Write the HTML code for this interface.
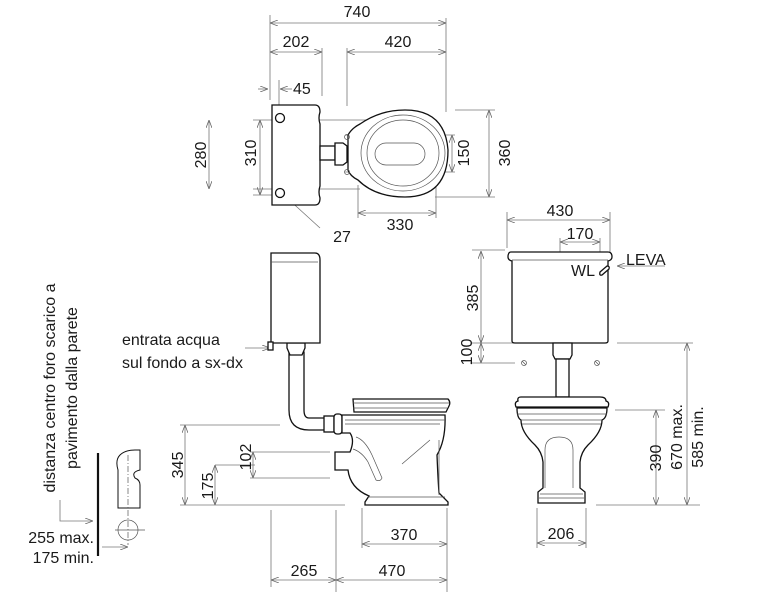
<!DOCTYPE html>
<html><head><meta charset="utf-8"><style>
body{margin:0;background:#fff}
svg{display:block}
text{font-family:"Liberation Sans",sans-serif;font-size:16px;fill:#1a1a1a}
.d{stroke:#777;stroke-width:0.8;fill:none}
.o{stroke:#111;stroke-width:1.3;fill:#fff}
.t{stroke:#555;stroke-width:0.7;fill:none}
</style></head><body>
<svg width="758" height="615" viewBox="0 0 758 615" xmlns="http://www.w3.org/2000/svg">
<defs>
<marker id="a" markerWidth="8" markerHeight="6" refX="8" refY="3" orient="auto-start-reverse" markerUnits="userSpaceOnUse"><path d="M0,0 L8,3 L0,6" fill="none" stroke="#666" stroke-width="0.8"/></marker>
</defs>
<g class="d">
<line x1="270" y1="15" x2="270" y2="100"/><line x1="322" y1="48" x2="322" y2="96"/><line x1="347" y1="48" x2="347" y2="106"/><line x1="446" y1="18" x2="446" y2="112"/>
<line x1="270" y1="23" x2="446" y2="23" marker-start="url(#a)" marker-end="url(#a)"/>
<line x1="270" y1="52" x2="322" y2="52" marker-start="url(#a)" marker-end="url(#a)"/>
<line x1="347" y1="52" x2="446" y2="52" marker-start="url(#a)" marker-end="url(#a)"/>
<line x1="258" y1="89" x2="268" y2="89" marker-end="url(#a)"/><line x1="292" y1="89" x2="280" y2="89" marker-end="url(#a)"/><line x1="279" y1="80" x2="279" y2="118"/>
<line x1="253" y1="120" x2="400" y2="120"/><line x1="253" y1="189" x2="360" y2="189"/><line x1="253" y1="195" x2="280" y2="195"/>
<line x1="209" y1="120" x2="209" y2="189" marker-start="url(#a)" marker-end="url(#a)"/>
<line x1="260" y1="120" x2="260" y2="195" marker-start="url(#a)" marker-end="url(#a)"/>
<line x1="345" y1="135" x2="455" y2="135"/><line x1="345" y1="172" x2="455" y2="172"/>
<line x1="452" y1="135" x2="452" y2="172" marker-start="url(#a)" marker-end="url(#a)"/>
<line x1="455" y1="110" x2="495" y2="110"/><line x1="435" y1="197" x2="495" y2="197"/>
<line x1="489" y1="110" x2="489" y2="197" marker-start="url(#a)" marker-end="url(#a)"/>
<line x1="358" y1="185" x2="358" y2="218"/><line x1="436" y1="180" x2="436" y2="218"/>
<line x1="358" y1="213" x2="436" y2="213" marker-start="url(#a)" marker-end="url(#a)"/>
<line x1="320" y1="228" x2="286" y2="197" marker-end="url(#a)"/>
<line x1="180" y1="505" x2="345" y2="505"/><line x1="180" y1="425" x2="280" y2="425"/>
<line x1="185" y1="425" x2="185" y2="505" marker-start="url(#a)" marker-end="url(#a)"/>
<line x1="215" y1="465" x2="255" y2="465"/>
<line x1="215" y1="465" x2="215" y2="505" marker-start="url(#a)" marker-end="url(#a)"/>
<line x1="250" y1="452" x2="330" y2="452"/><line x1="250" y1="478" x2="330" y2="478"/>
<line x1="253" y1="452" x2="253" y2="478" marker-start="url(#a)" marker-end="url(#a)"/>
<line x1="271" y1="510" x2="271" y2="587"/><line x1="336" y1="510" x2="336" y2="592"/><line x1="362" y1="508" x2="362" y2="548"/><line x1="447" y1="508" x2="447" y2="592"/>
<line x1="362" y1="544" x2="447" y2="544" marker-start="url(#a)" marker-end="url(#a)"/>
<line x1="271" y1="580" x2="336" y2="580" marker-start="url(#a)" marker-end="url(#a)"/>
<line x1="336" y1="580" x2="447" y2="580" marker-start="url(#a)" marker-end="url(#a)"/>
<line x1="245" y1="348" x2="270" y2="348" marker-end="url(#a)"/>
<line x1="507" y1="212" x2="507" y2="248"/><line x1="610" y1="212" x2="610" y2="252"/>
<line x1="507" y1="220" x2="610" y2="220" marker-start="url(#a)" marker-end="url(#a)"/>
<line x1="560" y1="238" x2="560" y2="272"/><line x1="600" y1="238" x2="600" y2="258"/>
<line x1="560" y1="242" x2="600" y2="242" marker-start="url(#a)" marker-end="url(#a)"/>
<line x1="548" y1="270" x2="568" y2="270"/>
<line x1="665" y1="266" x2="617" y2="266" marker-end="url(#a)"/>
<line x1="472" y1="250" x2="505" y2="250"/><line x1="470" y1="343" x2="515" y2="343"/><line x1="470" y1="363" x2="515" y2="363"/>
<line x1="481" y1="251" x2="481" y2="343" marker-start="url(#a)" marker-end="url(#a)"/>
<line x1="481" y1="343" x2="481" y2="363" marker-start="url(#a)" marker-end="url(#a)"/>
<line x1="617" y1="343" x2="693" y2="343"/><line x1="615" y1="410" x2="665" y2="410"/><line x1="596" y1="505" x2="700" y2="505"/>
<line x1="656" y1="410" x2="656" y2="505" marker-start="url(#a)" marker-end="url(#a)"/>
<line x1="687" y1="343" x2="687" y2="505" marker-start="url(#a)" marker-end="url(#a)"/>
<line x1="537" y1="508" x2="537" y2="548"/><line x1="586" y1="508" x2="586" y2="548"/>
<line x1="537" y1="543" x2="586" y2="543" marker-start="url(#a)" marker-end="url(#a)"/>
<polyline points="60,500 60,521 93,521" marker-end="url(#a)"/>
<line x1="102" y1="547" x2="128" y2="547" marker-end="url(#a)"/>
</g>

<path class="o" d="M272,105 H315 Q320,105 320,112 Q318,118 320,124 V186 Q318,192 320,198 Q320,205 315,205 H272 Z"/>
<circle class="o" cx="280" cy="118" r="4.5"/><circle class="o" cx="280" cy="193" r="4.5"/>
<rect class="o" x="320" y="146" width="15" height="14"/>
<path class="o" d="M335,143 h8 l4,3 v16 l-4,3 h-8 z"/>
<path class="o" d="M348,135 Q352,128 360,124 Q380,110 405,110 Q445,110 448,150 Q448,197 405,197 Q375,197 358,180 Q350,176 348,170 Z"/>
<ellipse class="t" cx="403" cy="153" rx="42" ry="38"/>
<ellipse class="t" cx="403" cy="153" rx="36" ry="33"/>
<rect class="t" x="375" y="143" width="50" height="22" rx="11"/>
<circle class="t" cx="347" cy="137" r="2.5"/><circle class="t" cx="347" cy="172" r="2.5"/>

<path class="o" d="M289,343 V410 Q289,430 309,430 H325 V418 H309 Q304,418 304,410 V352 Z"/>
<path class="o" d="M287,343 h18 v5 l-3,7 h-12 l-3,-7z"/>
<path class="o" d="M271,253 H315 Q320,253 320,260 V343 H271 Z"/>
<line class="t" x1="271" y1="262" x2="318" y2="262"/>
<rect class="o" x="268" y="342" width="5" height="8"/>
<rect class="o" x="324" y="416" width="10" height="16"/><rect class="o" x="334" y="414" width="8" height="20" rx="3"/>
<path class="o" d="M342,415 H445 Q446,440 437,455 Q438,480 439,493 L448,502 V505 H365 V502 L369,496 Q350,488 348,470 H335 V452 H350 Q355,440 350,433 H342 Z"/>
<line class="t" x1="345" y1="420" x2="445" y2="420"/><line class="t" x1="345" y1="424" x2="440" y2="424"/>
<line class="t" x1="368" y1="497" x2="445" y2="497"/>
<path class="t" d="M356,437 Q365,440 372,455 L382,478 Q380,482 376,480 L368,462 Q362,452 353,449"/>
<path class="t" d="M402,464 L430,440"/>
<line class="t" x1="439" y1="440" x2="439" y2="495"/>
<path class="o" d="M353,399 H448 Q451,402 449,406 L446,412 H354 Z"/>
<line class="t" x1="353" y1="403" x2="449" y2="403"/><line class="t" x1="353" y1="408" x2="447" y2="408"/>

<path class="o" d="M511,252 H608 Q612,252 612,257 Q612,260 608,261 V341 Q608,343 605,343 H515 Q512,343 512,341 V261 Q508,260 508,257 Q508,252 511,252 Z"/>
<line class="t" x1="512" y1="260" x2="608" y2="260"/>
<path class="o" d="M600,272 l7,-6 q3,0 2,3 l-7,6 q-3,1 -2,-3z"/>
<g class="t"><circle cx="524" cy="363" r="2.5"/><circle cx="597" cy="363" r="2.5"/><line x1="522" y1="361" x2="526" y2="365"/><line x1="595" y1="361" x2="599" y2="365"/></g>
<path class="o" d="M553,343 h19 v12 l-2,4 h-15 l-2,-4z"/>
<rect class="o" x="556" y="359" width="13" height="38"/>
<path class="o" d="M521,397 H600 Q606,397 606,401 Q610,402 608,407 H516 Q514,402 518,401 Q517,397 521,397 Z"/>
<path class="o" d="M517,408 H607 Q607,418 602,420 Q602,432 588,445 Q581,452 580,462 V488 L585,492 V503 H538 V492 L543,488 V462 Q542,452 535,445 Q521,432 521,420 Q517,418 517,408 Z"/>
<line class="t" x1="517" y1="414" x2="607" y2="414"/><line class="t" x1="521" y1="420" x2="602" y2="420"/><line class="t" x1="522" y1="424" x2="601" y2="424"/>
<path class="t" d="M545,488 V450 Q545,437 559,437 Q573,437 573,450 V488"/>
<line class="t" x1="540" y1="494" x2="583" y2="494"/><line class="t" x1="539" y1="498" x2="584" y2="498"/>

<line x1="98" y1="453" x2="98" y2="556" stroke="#111" stroke-width="2.2"/>
<path class="o" d="M118,508 V470 Q115,460 120,455 Q125,450 135,450 H140 V470 Q131,472 135,478 Q140,480 140,485 V508 Z" style="stroke-width:1"/>
<circle class="t" cx="128" cy="530" r="10"/>
<line class="t" x1="115" y1="530" x2="145" y2="530"/><line class="t" x1="128" y1="455" x2="128" y2="545" stroke-dasharray="6,2,1,2"/>

<text x="357" y="17" text-anchor="middle">740</text>
<text x="296" y="47" text-anchor="middle">202</text>
<text x="398" y="47" text-anchor="middle">420</text>
<text x="293" y="94">45</text>
<text x="400" y="230" text-anchor="middle">330</text>
<text x="342" y="242" text-anchor="middle">27</text>
<text transform="translate(206,155) rotate(-90)" text-anchor="middle">280</text>
<text transform="translate(256,153) rotate(-90)" text-anchor="middle">310</text>
<text transform="translate(469,153) rotate(-90)" text-anchor="middle">150</text>
<text transform="translate(510,153) rotate(-90)" text-anchor="middle">360</text>
<text x="122" y="345">entrata acqua</text>
<text x="122" y="368">sul fondo a sx-dx</text>
<text transform="translate(183,465) rotate(-90)" text-anchor="middle">345</text>
<text transform="translate(213,486) rotate(-90)" text-anchor="middle">175</text>
<text transform="translate(251,457) rotate(-90)" text-anchor="middle">102</text>
<text x="404" y="540" text-anchor="middle">370</text>
<text x="304" y="576" text-anchor="middle">265</text>
<text x="392" y="576" text-anchor="middle">470</text>
<text x="560" y="216" text-anchor="middle">430</text>
<text x="580" y="239" text-anchor="middle">170</text>
<text x="571" y="276">WL</text>
<text x="626" y="265">LEVA</text>
<text transform="translate(478,298) rotate(-90)" text-anchor="middle">385</text>
<text transform="translate(472,352) rotate(-90)" text-anchor="middle">100</text>
<text transform="translate(661,458) rotate(-90)" text-anchor="middle">390</text>
<text transform="translate(682,437) rotate(-90)" text-anchor="middle">670 max.</text>
<text transform="translate(703,437) rotate(-90)" text-anchor="middle">585 min.</text>
<text x="561" y="539" text-anchor="middle">206</text>
<text transform="translate(55,388) rotate(-90)" text-anchor="middle">distanza centro foro scarico a</text>
<text transform="translate(77,388) rotate(-90)" text-anchor="middle">pavimento dalla parete</text>
<text x="94" y="543" text-anchor="end">255 max.</text>
<text x="94" y="563" text-anchor="end">175 min.</text>
</svg>
</body></html>
